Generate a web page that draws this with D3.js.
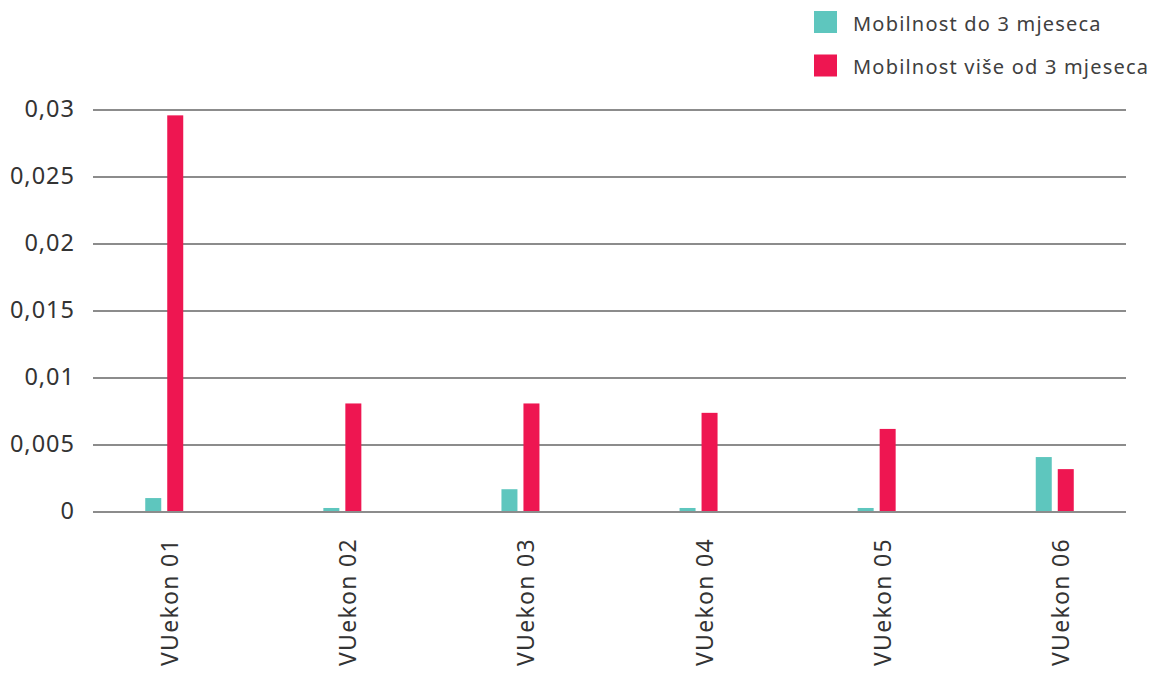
<!DOCTYPE html>
<html>
<head>
<meta charset="utf-8">
<script src="https://cdn.jsdelivr.net/npm/d3@7"></script>
<style>
html,body{margin:0;padding:0;background:#fff;}
svg{display:block;font-family:"Noto Sans",sans-serif;}
</style>
</head>
<body>
<svg id="chart" width="1153" height="673"></svg>
<script>
const categories = ["VUekon 01","VUekon 02","VUekon 03","VUekon 04","VUekon 05","VUekon 06"];
const seriesNames = ["Mobilnost do 3 mjeseca","Mobilnost više od 3 mjeseca"];
const shortStay = [0.00104, 0.0003, 0.0017, 0.0003, 0.0003, 0.0041];
const longStay = [0.0296, 0.0081, 0.0081, 0.0074, 0.0062, 0.0032];
const yTicks = [0, 0.005, 0.01, 0.015, 0.02, 0.025, 0.03];
const yTickLabels = ["0","0,005","0,01","0,015","0,02","0,025","0,03"];
const colors = ["#5ec6be","#ee1651"];

const svg = d3.select("#chart");
const mLeft = 93, mRight = 1126, mTop = 110, mBottom = 512;

const x = d3.scalePoint().domain(categories).range([mLeft, mRight]).padding(0.4);
const y = d3.scaleLinear().domain([0, 0.03]).range([mBottom, mTop]);

// gridlines
svg.append("g").selectAll("line").data(yTicks).join("line")
  .attr("x1", mLeft).attr("x2", mRight)
  .attr("y1", d => y(d)).attr("y2", d => y(d))
  .attr("stroke", "#8c8c8c").attr("stroke-width", 2);

// y labels
svg.append("g").selectAll("text").data(yTicks).join("text")
  .attr("x", 75).attr("y", d => y(d) - 2)
  .attr("text-anchor", "end").attr("dominant-baseline", "central")
  .attr("font-size", 23.5).attr("letter-spacing", 1).attr("fill", "#333")
  .text((d, i) => yTickLabels[i]);

const barW = 16, gap = 6;
const series = [shortStay, longStay];
series.forEach((vals, si) => {
  svg.append("g").selectAll("rect").data(vals).join("rect")
    .attr("x", (d, i) => x(categories[i]) + (si === 0 ? -(barW + gap/2) : gap/2))
    .attr("y", d => y(d))
    .attr("width", barW)
    .attr("height", d => y(0) - y(d) - 1)
    .attr("fill", colors[si]);
});

// x labels rotated
svg.append("g").selectAll("text").data(categories).join("text")
  .attr("transform", d => `translate(${x(d) + 5},538) rotate(-90)`)
  .attr("text-anchor", "end").attr("dominant-baseline", "central")
  .attr("font-size", 23).attr("letter-spacing", 1.3).attr("fill", "#333")
  .text(d => d);

// legend
const leg = svg.append("g");
seriesNames.forEach((name, i) => {
  const cy = 22 + i * 43.5;
  leg.append("rect").attr("x", 814).attr("y", cy - 11).attr("width", 23).attr("height", 22).attr("fill", colors[i]);
  leg.append("text").attr("x", 853).attr("y", cy + 1)
    .attr("dominant-baseline", "central")
    .attr("font-size", 20).attr("letter-spacing", 1.2).attr("fill", "#404040")
    .text(name);
});
</script>
</body>
</html>
